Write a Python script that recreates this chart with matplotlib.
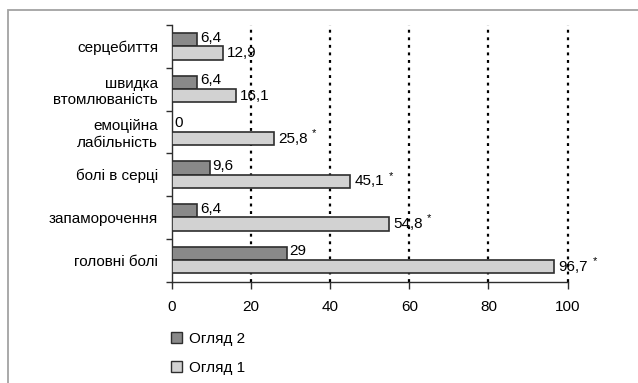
import matplotlib.pyplot as plt
from matplotlib.patches import Rectangle
import numpy as np

# --- DATA ---
categories = ['серцебиття', 'швидка\nвтомлюваність', 'емоційна\nлабільність',
              'болі в серці', 'запаморочення', 'головні болі']
exam2 = [6.4, 6.4, 0, 9.6, 6.4, 29]
exam1 = [12.9, 16.1, 25.8, 45.1, 54.8, 96.7]
exam1_star = [False, False, True, True, True, True]
x_ticks = [0, 20, 40, 60, 80, 100]

DARK = '#898989'
LIGHT = '#d2d2d2'
EDGE = '#2e2e2e'


def fmt(v):
    return f'{v:g}'.replace('.', ',')


plt.rcParams['font.family'] = ['Liberation Sans', 'DejaVu Sans']
plt.rcParams['font.size'] = 11

fig = plt.figure(figsize=(6.38, 3.83), dpi=100)
ax = fig.add_axes([172 / 638, 1 - 281.5 / 383, (567.5 - 172) / 638, (281.5 - 25) / 383])

# outer frame (only top and left edges fall inside the image)
fig.patches.append(Rectangle((8 / 638, -1), 3, 2 - 10 / 383, transform=fig.transFigure,
                             fill=False, edgecolor='#a3a3a3', linewidth=1.3, zorder=0))

y = np.arange(len(categories))
h = 0.31
bars2 = ax.barh(y - h / 2, exam2, height=h, color=DARK, edgecolor=EDGE, linewidth=1.2, zorder=3)
bars1 = ax.barh(y + h / 2, exam1, height=h, color=LIGHT, edgecolor=EDGE, linewidth=1.2, zorder=3)

# value labels
for b, v in zip(bars2, exam2):
    ax.annotate(fmt(v), xy=(v, b.get_y() + b.get_height() / 2), xytext=(2, 1.5),
                textcoords='offset points', va='center', ha='left', zorder=5)
for b, v, s in zip(bars1, exam1, exam1_star):
    t = ax.annotate(fmt(v), xy=(v, b.get_y() + b.get_height() / 2), xytext=(3, 0),
                    textcoords='offset points', va='center', ha='left', zorder=5)
    if s:
        ax.annotate('*', xy=(1, 1), xycoords=t, xytext=(3, -1),
                    textcoords='offset points', ha='left', va='center', fontsize=8)

ax.set_xlim(0, 100)
ax.set_ylim(len(categories) - 0.5, -0.5)
ax.set_xticks(x_ticks)
ax.set_xticklabels([str(v) for v in x_ticks])
ax.set_yticks(y)
ax.set_yticklabels(categories, multialignment='right')
ax.set_yticks(np.arange(len(categories) + 1) - 0.5, minor=True)
ax.tick_params(axis='y', which='major', length=0, pad=10)
ax.tick_params(axis='y', which='minor', length=4.5, width=1, color=EDGE)
ax.tick_params(axis='x', length=5, width=1, color=EDGE, pad=8)

for sp in ['top', 'right']:
    ax.spines[sp].set_visible(False)
for sp in ['left', 'bottom']:
    ax.spines[sp].set_color(EDGE)
    ax.spines[sp].set_linewidth(1)

# dotted vertical grid
for gx in x_ticks[1:]:
    ax.axvline(gx, color='black', linewidth=1.6, linestyle=(0, (1.3, 2.1)), zorder=1,
               clip_on=False)

handles = [Rectangle((0, 0), 1, 1, facecolor=DARK, edgecolor=EDGE, linewidth=1),
           Rectangle((0, 0), 1, 1, facecolor=LIGHT, edgecolor=EDGE, linewidth=1)]
fig.legend(handles, ['Огляд 2', 'Огляд 1'], loc='upper left',
           bbox_to_anchor=(171 / 638, 1 - 332 / 383), frameon=False, borderpad=0,
           handlelength=0.75, handleheight=0.75, handletextpad=0.45, labelspacing=0.95,
           borderaxespad=0)

fig.savefig('out.png', dpi=100)
